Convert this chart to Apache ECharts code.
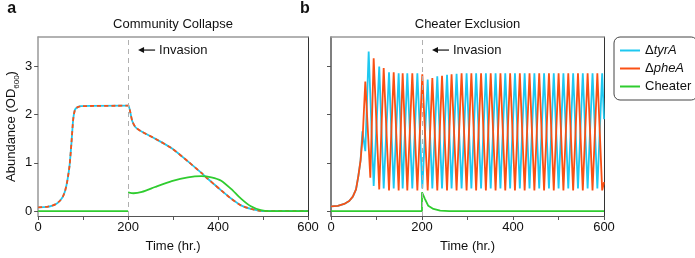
<!DOCTYPE html>
<html>
<head>
<meta charset="utf-8">
<script src="https://cdn.jsdelivr.net/npm/echarts@6/dist/echarts.min.js"></script>
<style>
html, body { margin: 0; padding: 0; background: #fff; }
#chart { width: 695px; height: 258px; }
</style>
</head>
<body>
<div id="chart"></div>
<script>
// ---- panel a : Community Collapse ----
const aPairT = [0, 20, 30, 40, 48, 55, 60, 65, 70, 74, 78, 82, 88, 95, 200, 205, 209, 216, 231, 260, 297, 333, 363, 377, 392, 407, 429, 451, 473, 490, 505, 600];
const aPairV = [0.08, 0.09, 0.11, 0.15, 0.21, 0.3, 0.42, 0.63, 0.95, 1.4, 1.9, 2.1, 2.15, 2.17, 2.18, 2.04, 1.87, 1.74, 1.64, 1.5, 1.3, 1.03, 0.79, 0.67, 0.55, 0.43, 0.26, 0.12, 0.045, 0.012, 0, 0];
const aCheatPreT = [0, 200];
const aCheatPreV = [0, 0];
const aCheatT = [200, 212, 231, 260, 297, 333, 363, 385, 407, 429, 451, 473, 495, 515, 600];
const aCheatV = [0.39, 0.37, 0.4, 0.5, 0.62, 0.7, 0.725, 0.7, 0.63, 0.46, 0.26, 0.1, 0.02, 0, 0];

// ---- panel b : Cheater Exclusion ----
const bTyrT = [0, 15, 29, 40, 48, 55, 60, 65, 69, 75.4, 82.8, 93.8, 106, 115.8, 127.5, 137.8, 148.7, 157.5, 167.7, 178.7, 189.8, 200.7, 212.5, 222.7, 233.6, 244, 255, 265, 276, 287, 298, 308.5, 319, 329.8, 340.4, 351, 361.7, 372.4, 383, 393.7, 404.3, 415, 425.6, 436.3, 447, 457.6, 468.3, 479, 489.6, 500.2, 510.8, 521.5, 532.2, 542.8, 553.4, 564, 574.8, 585.4, 596, 600];
const bTyrV = [0.1, 0.11, 0.15, 0.21, 0.3, 0.45, 0.72, 1.05, 1.65, 1.24, 3.3, 0.52, 2.99, 0.47, 2.87, 0.47, 2.85, 0.47, 2.85, 0.47, 2.85, 0.47, 2.72, 0.47, 2.79, 0.47, 2.82, 0.47, 2.84, 0.47, 2.85, 0.47, 2.85, 0.47, 2.85, 0.47, 2.85, 0.47, 2.85, 0.47, 2.85, 0.47, 2.85, 0.47, 2.85, 0.47, 2.85, 0.47, 2.85, 0.47, 2.85, 0.47, 2.85, 0.47, 2.85, 0.47, 2.85, 0.47, 2.85, 1.9];
const bPheT = [0, 15, 29, 40, 48, 55, 60, 65, 70, 75.4, 86.4, 93.8, 106, 115.8, 127.5, 137.8, 148.7, 157.5, 167.7, 178.7, 189.8, 200.7, 212.5, 222.7, 233.6, 244, 255, 265, 276, 287, 298, 308.5, 319, 329.8, 340.4, 351, 361.7, 372.4, 383, 393.7, 404.3, 415, 425.6, 436.3, 447, 457.6, 468.3, 479, 489.6, 500.2, 510.8, 521.5, 532.2, 542.8, 553.4, 564, 574.8, 585.4, 596, 600];
const bPheV = [0.1, 0.11, 0.15, 0.21, 0.3, 0.45, 0.72, 1.05, 1.6, 2.68, 0.69, 3.16, 0.45, 2.96, 0.43, 2.87, 0.43, 2.85, 0.43, 2.85, 0.43, 2.83, 0.43, 2.75, 0.43, 2.8, 0.43, 2.83, 0.43, 2.85, 0.43, 2.85, 0.43, 2.85, 0.43, 2.85, 0.43, 2.85, 0.43, 2.85, 0.43, 2.85, 0.43, 2.85, 0.43, 2.85, 0.43, 2.85, 0.43, 2.85, 0.43, 2.85, 0.43, 2.85, 0.43, 2.85, 0.43, 2.85, 0.43, 0.6];
const bCheatT = [0, 200, 200, 206.6, 213.8, 225, 240, 260, 600];
const bCheatV = [0, 0, 0.39, 0.25, 0.11, 0.045, 0.01, 0, 0];

const xTicks = [0, 100, 200, 300, 400, 500, 600];
const xLabels = [0, 200, 400, 600];
const yTicks = [0, 1, 2, 3];
const invasionTime = 200;

const FONT = 'Liberation Sans, Arial, sans-serif';
const CYAN = '#1ec8f0';
const ORANGE = '#fa5014';
const GREEN = '#2fcc2f';

function pairs (t, v) {
    return t.map(function (x, i) { return [x, v[i]]; });
}

function bottomAxis (grid) {
    return {
        type: 'value', gridIndex: grid, min: 0, max: 600, position: 'bottom',
        axisLine: { show: true, onZero: false, lineStyle: { color: '#555', width: 1 } },
        axisTick: { show: true, length: 4, customValues: xTicks, lineStyle: { color: '#555' } },
        axisLabel: { customValues: xLabels, color: '#111', fontSize: 13, fontFamily: FONT, margin: 5 },
        splitLine: { show: false },
        name: 'Time (hr.)', nameLocation: 'middle', nameGap: 24,
        nameTextStyle: { color: '#111', fontSize: 13, fontFamily: FONT }
    };
}
function topAxis (grid) {
    return {
        type: 'value', gridIndex: grid, min: 0, max: 600, position: 'top',
        axisLine: { show: true, onZero: false, lineStyle: { color: '#999', width: 1.5 } },
        axisTick: { show: false }, axisLabel: { show: false }, splitLine: { show: false }
    };
}
function leftAxis (grid, labels, color) {
    const ax = {
        type: 'value', gridIndex: grid, min: -0.1, max: 3.6, position: 'left',
        axisLine: { show: true, onZero: false, lineStyle: { color: color, width: 1.5 } },
        axisTick: { show: true, length: 4, customValues: yTicks, lineStyle: { color: '#555' } },
        axisLabel: { show: labels, customValues: yTicks, color: '#111', fontSize: 13, fontFamily: FONT, margin: 6 },
        splitLine: { show: false }
    };
    if (labels) {
        ax.name = 'Abundance (OD{s|600})';
        ax.nameLocation = 'middle';
        ax.nameGap = 17;
        ax.nameTextStyle = {
            color: '#111', fontSize: 13, fontFamily: FONT, lineHeight: 14,
            rich: { s: { fontSize: 8, fontFamily: FONT, color: '#111', verticalAlign: 'bottom', lineHeight: 20 } }
        };
    }
    return ax;
}
function rightAxis (grid) {
    return {
        type: 'value', gridIndex: grid, min: -0.1, max: 3.6, position: 'right',
        axisLine: { show: true, onZero: false, lineStyle: { color: '#333', width: 1 } },
        axisTick: { show: false }, axisLabel: { show: false }, splitLine: { show: false }
    };
}

function lineSeries (name, color, xi, data, dash, mark) {
    const s = {
        name: name, type: 'line', xAxisIndex: xi, yAxisIndex: xi,
        data: data, showSymbol: false, symbol: 'none', animation: false,
        lineStyle: { color: color, width: 1.8, type: dash || 'solid' },
        itemStyle: { color: color }
    };
    if (xi === 0) { s.smooth = 0.2; }
    if (mark) {
        s.markLine = {
            silent: true, symbol: ['none', 'none'], label: { show: false },
            lineStyle: { color: '#b0b0b0', type: [5, 4], width: 1 },
            data: [{ xAxis: invasionTime }]
        };
    }
    return s;
}

const chart = echarts.init(document.getElementById('chart'));
const option = {
    animation: false,
    grid: [
        { left: 35, top: 37, width: 273, height: 182 },
        { left: 331, top: 37, width: 273, height: 182 }
    ],
    xAxis: [bottomAxis(0), topAxis(0), bottomAxis(1), topAxis(1)],
    yAxis: [leftAxis(0, true, '#999'), rightAxis(0), leftAxis(1, false, '#555'), rightAxis(1)],
    legend: {
        left: 614, top: 37, orient: 'vertical',
        data: ['ΔtyrA', 'ΔpheA', 'Cheater'],
        icon: 'rect', itemWidth: 20, itemHeight: 2, itemGap: 5,
        padding: [7, 6, 7, 6],
        borderColor: '#444', borderWidth: 1, borderRadius: 6,
        selectedMode: false,
        formatter: function (name) {
            if (name === 'ΔtyrA') { return 'Δ{i|tyrA}'; }
            if (name === 'ΔpheA') { return 'Δ{i|pheA}'; }
            return name;
        },
        textStyle: {
            color: '#111', fontSize: 13, fontFamily: FONT,
            rich: { i: { fontStyle: 'italic', fontSize: 13, fontFamily: FONT, color: '#111' } }
        }
    },
    series: [
        lineSeries('ΔtyrA', CYAN, 0, pairs(aPairT, aPairV), null, true),
        lineSeries('ΔpheA', ORANGE, 0, pairs(aPairT, aPairV), [4, 3]),
        lineSeries('Cheater', GREEN, 0, pairs(aCheatPreT, aCheatPreV)),
        lineSeries('Cheater', GREEN, 0, pairs(aCheatT, aCheatV)),
        lineSeries('ΔtyrA', CYAN, 2, pairs(bTyrT, bTyrV), null, true),
        lineSeries('ΔpheA', ORANGE, 2, pairs(bPheT, bPheV)),
        lineSeries('Cheater', GREEN, 2, pairs(bCheatT, bCheatV))
    ]
};
chart.setOption(option);

// titles, panel letters and the invasion arrows
function textEl (x, y, text, size, weight, align) {
    return {
        type: 'text', x: x, y: y, silent: true,
        style: { text: text, fill: '#111', fontSize: size, fontWeight: weight || 'normal', fontFamily: FONT, align: align || 'left', verticalAlign: 'middle' }
    };
}
const graphics = [];
[['a', 'Community Collapse', 0], ['b', 'Cheater Exclusion', 2]].forEach(function (p) {
    const left = chart.convertToPixel({ xAxisIndex: p[2] }, 0);
    const right = chart.convertToPixel({ xAxisIndex: p[2] }, 600);
    const lineX = chart.convertToPixel({ xAxisIndex: p[2] }, invasionTime);
    const y = chart.convertToPixel({ yAxisIndex: p[2] }, 3.33);
    graphics.push(textEl(left - 31, 9, p[0], 16, 'bold'));
    graphics.push(textEl((left + right) / 2, 24, p[1], 13, 'normal', 'center'));
    graphics.push({ type: 'line', silent: true, shape: { x1: lineX + 14, y1: y, x2: lineX + 27, y2: y }, style: { stroke: '#111', lineWidth: 1.2 } });
    graphics.push({ type: 'polygon', silent: true, shape: { points: [[lineX + 10, y], [lineX + 16, y - 3], [lineX + 16, y + 3]] }, style: { fill: '#111' } });
    graphics.push(textEl(lineX + 31, y, 'Invasion', 13));
});
chart.setOption({ graphic: graphics });
</script>
</body>
</html>
